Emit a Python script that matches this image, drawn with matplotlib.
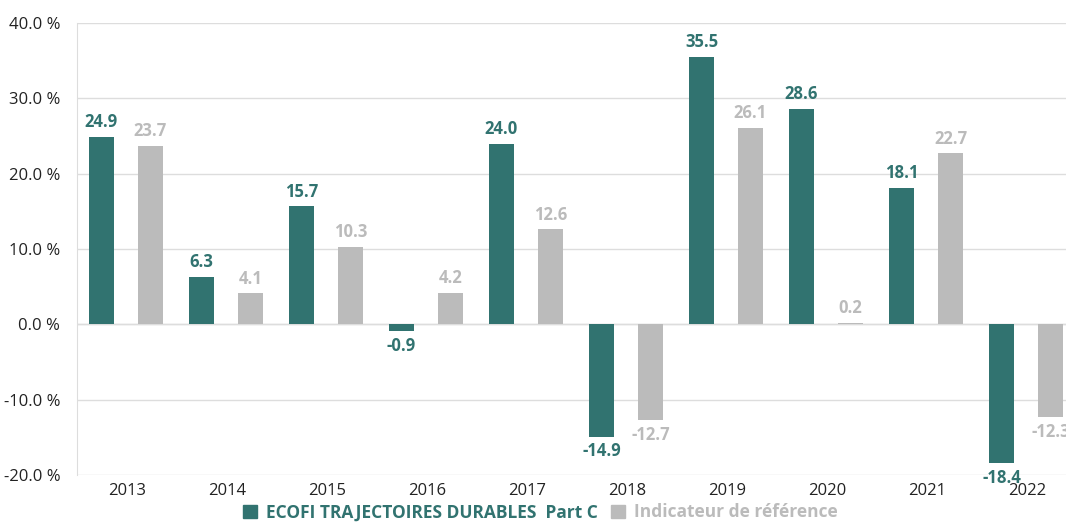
import numpy as np
from matplotlib import pyplot as plt
from matplotlib.patches import Patch

annees = ["2013", "2014", "2015", "2016", "2017", "2018", "2019", "2020", "2021", "2022"]
fonds = [24.9, 6.3, 15.7, -0.9, 24.0, -14.9, 35.5, 28.6, 18.1, -18.4]
indice = [23.7, 4.1, 10.3, 4.2, 12.6, -12.7, 26.1, 0.2, 22.7, -12.3]
noms = ["ECOFI TRAJECTOIRES DURABLES  Part C", "Indicateur de référence"]

vert = "#317370"
gris = "#bbbbbb"

plt.rcParams['font.family'] = ['Open Sans', 'DejaVu Sans']

fig = plt.figure(figsize=(10.66, 5.24), dpi=100)
ax = fig.add_axes([77 / 1066, 49 / 524, 1 - 77 / 1066, 452 / 524])

x = np.arange(len(annees))
w = 0.25
dec = 0.245
b1 = ax.bar(x - dec - 0.01, fonds, w, color=vert, zorder=3)
b2 = ax.bar(x + dec - 0.01, indice, w, color=gris, zorder=3)

for barres, vals, c in [(b1, fonds, vert), (b2, indice, gris)]:
  for r, v in zip(barres, vals):
    cx = r.get_x() + r.get_width() / 2
    if v >= 0:
      ax.annotate(f"{v:.1f}", (cx, v), xytext=(0, 4), textcoords="offset points",
                  ha="center", va="bottom", color=c, fontsize=12, fontweight="bold")
    else:
      ax.annotate(f"{v:.1f}", (cx, v), xytext=(0, -4), textcoords="offset points",
                  ha="center", va="top", color=c, fontsize=12, fontweight="bold")

ax.set_ylim(-20, 40)
ax.set_xlim(-0.5, 9.39)
ax.set_yticks(np.arange(-20, 41, 10))
ax.set_yticklabels([f"{t:.1f} %" for t in np.arange(-20, 41, 10)])
ax.set_xticks(x)
ax.set_xticklabels(annees)
ax.tick_params(axis="both", length=0, labelsize=12, colors="#222222")
ax.tick_params(axis="y", pad=12)
ax.tick_params(axis="x", pad=6)
ax.grid(axis="y", color="#dddddd", linewidth=1, zorder=0)
for s in ["top", "right", "bottom"]:
  ax.spines[s].set_visible(False)
ax.spines["left"].set_color("#dddddd")
ax.axhline(0, color="#dddddd", linewidth=1, zorder=1)

poignees = [Patch(color=vert), Patch(color=gris)]
leg = fig.legend(poignees, noms, loc="lower center", bbox_to_anchor=(0.507, -0.025), ncol=2,
                 frameon=False, handlelength=0.8, handleheight=0.8, handletextpad=0.5,
                 columnspacing=0.8, labelcolor=[vert, gris], prop={"weight": "bold", "size": 12.5})

fig.savefig("out.png", dpi=100)
